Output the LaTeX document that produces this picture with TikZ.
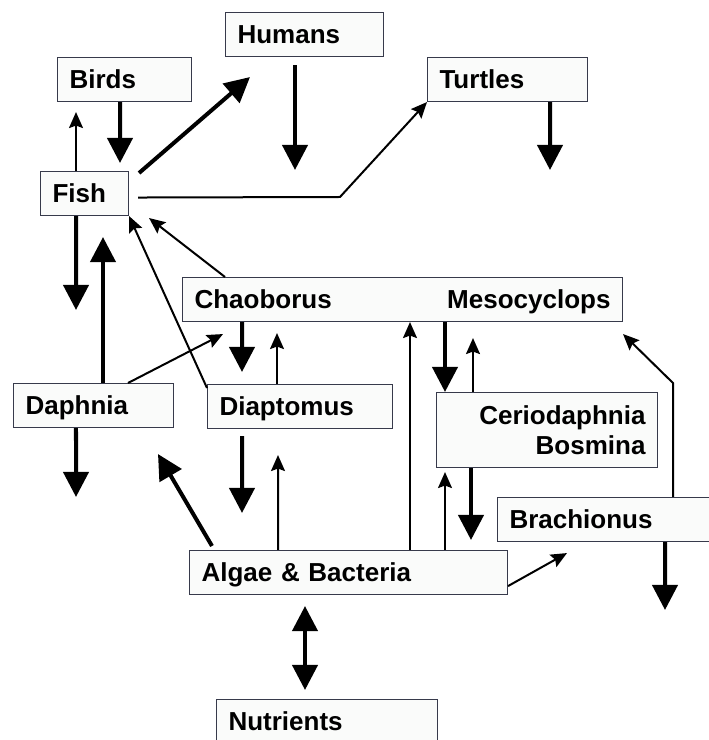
\documentclass[tikz,border=0pt]{standalone}
\usepackage{fontspec}
\setmainfont{Liberation Sans}
\usepackage{tikz}
\usetikzlibrary{arrows.meta,calc}
\definecolor{boxline}{RGB}{55,58,75}
\definecolor{boxfill}{RGB}{250,251,250}
\tikzset{
  taxon/.style={draw=boxline, fill=boxfill, line width=0.6pt, anchor=north west,
    inner xsep=0.24cm, inner ysep=0pt, minimum height=0.88cm, align=left,
    font=\fontsize{14.8}{17}\selectfont\bfseries, text height=10.6pt, text depth=0pt},
  bigarr/.style={-{Triangle[length=0.5cm,width=0.5cm]}, line width=0.08cm},
  smallarr/.style={-{Stealth[length=0.32cm,width=0.28cm,inset=0.05cm]}, line width=0.04cm},
}

\begin{document}
\begin{tikzpicture}
      \useasboundingbox (0,0) rectangle (14.18,14.80);
      \clip (0,0) rectangle (14.18,14.80);
      % top consumers
      \node[taxon, text width=2.68cm] (humans) at (4.50,14.56) {Humans};
      \node[taxon, text width=2.20cm] (birds) at (1.14,13.66) {Birds};
      \node[taxon, text width=2.72cm] (turtles) at (8.54,13.66) {Turtles};
      \node[taxon, text width=1.28cm] (fish) at (0.80,11.38) {Fish};
      % invertebrate predators
      \node[taxon, text width=8.32cm] (predators) at (3.64,9.26) {Chaoborus\hfill Mesocyclops\hspace*{0.20cm}};
      % grazers
      \node[taxon, text width=2.72cm] (daphnia) at (0.26,7.14) {Daphnia};
      \node[taxon, text width=3.22cm] (diaptomus) at (4.14,7.12) {Diaptomus};
      \node[taxon, text width=3.94cm, align=right, minimum height=1.50cm, text height=, text depth=] (cerio) at (8.72,6.96) {Ceriodaphnia\\Bosmina};
      \node[taxon, text width=4.12cm] (brachionus) at (9.94,4.86) {Brachionus};
      % base of the web
      \node[taxon, text width=5.88cm] (algae) at (3.78,3.80) {Algae \& Bacteria};
      \node[taxon, text width=3.94cm] (nutrients) at (4.32,0.82) {Nutrients};
      % free ends
      \coordinate (humansOut) at (5.90,11.40);
      \coordinate (turtlesOut) at (11.00,11.40);
      \coordinate (fishOut) at (1.52,8.60);
      \coordinate (daphniaOut) at (1.52,4.86);
      \coordinate (diaptomusOut) at (4.84,4.54);
      \coordinate (brachionusOut) at (13.30,2.60);
      \coordinate (fishBend) at (6.80,10.86);
      \coordinate (brachBend) at (13.46,7.14);
      % fish and above
      \draw[bigarr] ($(birds.south west)+(1.26,0)$) -- ($(fish.north west)+(1.60,0.16)$);
      \draw[smallarr] ($(fish.north west)+(0.72,0)$) -- ($(birds.south west)+(0.38,-0.20)$);
      \draw[bigarr] ($(fish.north east)+(0.20,-0.04)$) -- ($(humans.south west)+(0.50,-0.40)$);
      \draw[bigarr] ($(humans.south west)+(1.40,-0.16)$) -- (humansOut);
      \draw[smallarr] ($(fish.east)+(0.18,-0.08)$) -- (fishBend) -- (turtles.south west);
      \draw[bigarr] ($(turtles.south west)+(2.46,0)$) -- (turtlesOut);
      \draw[bigarr] ($(fish.south west)+(0.72,0)$) -- (fishOut);
      % into fish
      \draw[bigarr] ($(daphnia.north west)+(1.80,0)$) -- ($(fish.south west)+(1.26,-0.42)$);
      \draw[smallarr] ($(diaptomus.north west)+(0,-0.08)$) -- (fish.south east);
      \draw[smallarr] ($(predators.north west)+(0.86,0)$) -- ($(fish.south east)+(0.40,-0.04)$);
      % predators and grazers
      \draw[smallarr] ($(daphnia.north west)+(2.30,0)$) -- ($(predators.south west)+(0.82,-0.24)$);
      \draw[bigarr] ($(predators.south west)+(1.20,0)$) -- ($(diaptomus.north west)+(0.70,0.24)$);
      \draw[smallarr] ($(diaptomus.north west)+(1.40,0)$) -- ($(predators.south west)+(1.90,-0.22)$);
      \draw[bigarr] ($(daphnia.south west)+(1.26,0)$) -- (daphniaOut);
      \draw[bigarr] ($(diaptomus.south west)+(0.70,-0.14)$) -- (diaptomusOut);
      \draw[bigarr] ($(predators.south west)+(5.26,0)$) -- ($(cerio.north west)+(0.18,0)$);
      \draw[smallarr] ($(cerio.north west)+(0.74,0)$) -- ($(predators.south west)+(5.82,-0.32)$);
      % out of algae
      \draw[bigarr] ($(algae.north west)+(0.46,0.08)$) -- ($(daphnia.south west)+(2.90,-0.52)$);
      \draw[smallarr] ($(algae.north west)+(1.78,0)$) -- ($(diaptomus.south west)+(1.42,-0.52)$);
      \draw[smallarr] ($(algae.north west)+(4.42,0)$) -- ($(predators.south west)+(4.56,0)$);
      \draw[smallarr] ($(algae.north west)+(5.12,0)$) -- ($(cerio.south west)+(0.18,-0.08)$);
      \draw[bigarr] ($(cerio.south west)+(0.70,0)$) -- ($(algae.north west)+(5.64,0.20)$);
      \draw[smallarr] ($(algae.south east)+(0,0.18)$) -- ($(brachionus.south west)+(1.40,-0.22)$);
      % brachionus
      \draw[smallarr] ($(brachionus.north west)+(3.52,0)$) -- (brachBend) -- ($(predators.south east)+(0,-0.24)$);
      \draw[bigarr] ($(brachionus.south west)+(3.36,0)$) -- (brachionusOut);
      % nutrient exchange
      \draw[bigarr, {Triangle[length=0.5cm,width=0.5cm]}-{Triangle[length=0.5cm,width=0.5cm]}] ($(algae.south west)+(2.32,-0.22)$) -- ($(nutrients.north west)+(1.78,0.18)$);
    \end{tikzpicture}
\end{document}
